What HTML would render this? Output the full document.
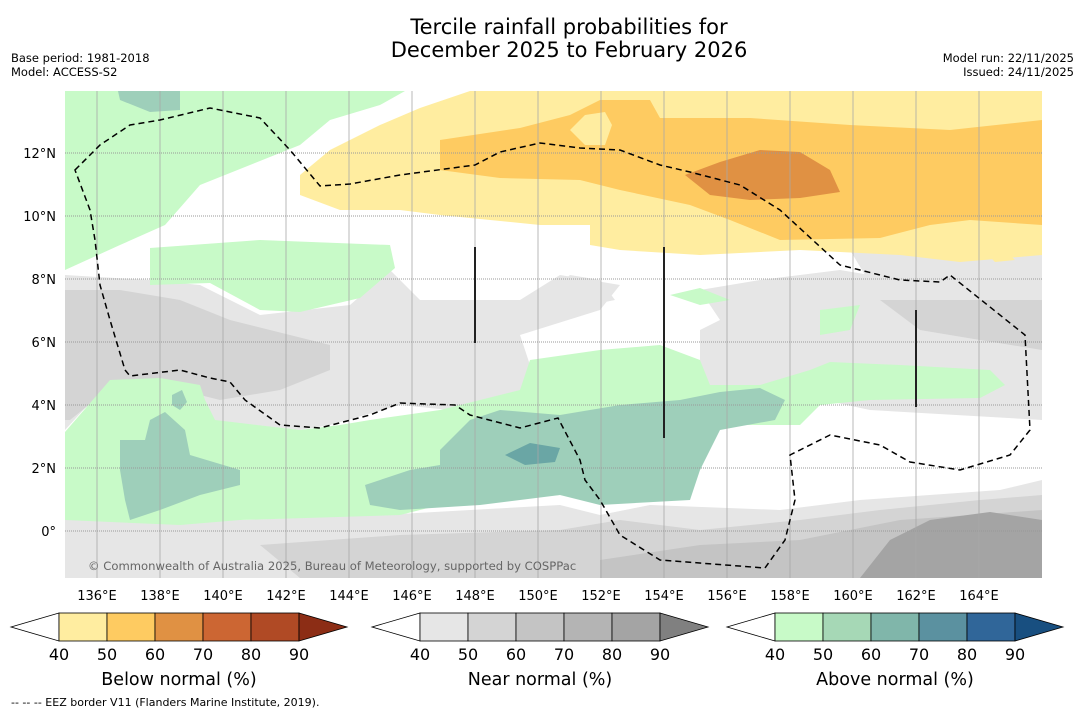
<!DOCTYPE html>
<html><head><meta charset="utf-8">
<style>
body{margin:0;background:#fff;font-family:"DejaVu Sans","Liberation Sans",sans-serif;}
svg text{font-family:"DejaVu Sans","Liberation Sans",sans-serif;}
</style></head>
<body>
<svg width="1085" height="713" viewBox="0 0 1085 713" xmlns="http://www.w3.org/2000/svg">
<rect width="1085" height="713" fill="#fff"/>
<text x="569" y="34" font-size="21" text-anchor="middle">Tercile rainfall probabilities for</text>
<text x="569" y="57" font-size="21" text-anchor="middle">December 2025 to February 2026</text>
<text x="11" y="62" font-size="11.5">Base period: 1981-2018</text>
<text x="11" y="76" font-size="11.5">Model: ACCESS-S2</text>
<text x="1074" y="62" font-size="11.5" text-anchor="end">Model run: 22/11/2025</text>
<text x="1074" y="76" font-size="11.5" text-anchor="end">Issued: 24/11/2025</text>

<defs><clipPath id="mc"><rect x="65" y="91" width="977" height="487"/></clipPath></defs>
<g clip-path="url(#mc)">
<rect x="65" y="91" width="977" height="487" fill="#fff"/>
<path fill="#e6e6e6" d="M65,275 L150,280 L200,285 L260,315 L350,305 L390,270 L420,300 L520,300 L560,275 L620,285 L600,310 L520,335 L530,365 L650,350 L700,360 L700,330 L720,320 L700,290 L760,280 L840,270 L900,280 L1042,250 L1042,578 L65,578 L65,520 L240,520 L380,515 L560,505 L600,515 L650,505 L780,510 L860,500 L1000,490 L1042,480 L1042,420 L870,410 L800,395 L720,410 L640,395 L560,420 L450,410 L400,405 L330,425 L300,430 L210,420 L170,380 L120,370 L65,430 Z"/>
<path fill="#d4d4d4" d="M65,290 L120,290 L180,300 L230,320 L330,345 L330,370 L280,390 L220,400 L180,390 L120,380 L70,420 L65,420 Z"/>
<path fill="#d4d4d4" d="M260,545 L400,535 L560,530 L620,520 L700,530 L800,520 L880,510 L980,500 L1042,495 L1042,578 L300,578 Z"/>
<path fill="#d4d4d4" d="M880,300 L1000,280 L1042,290 L1042,350 L980,340 L920,330 Z"/>
<path fill="#c4c4c4" d="M600,560 L700,545 L800,540 L900,520 L1042,510 L1042,578 L600,578 Z"/>
<path fill="#a4a4a4" d="M860,578 L890,540 L930,520 L990,512 L1042,520 L1042,578 Z"/>
<path fill="#e6e6e6" d="M470,91 L1042,91 L1042,110 L900,105 L800,110 L700,100 L540,110 L500,105 Z"/>
<path fill="#e6e6e6" d="M540,300 L570,275 L600,280 L615,300 L590,305 Z"/>
<path fill="#e6e6e6" d="M850,250 L950,240 L1042,230 L1042,300 L880,300 Z"/>
<path fill="#c8fac8" d="M65,91 L405,91 L380,105 L330,120 L300,145 L250,165 L200,185 L165,225 L120,245 L65,270 Z"/>
<path fill="#9ecfba" d="M118,91 L180,91 L180,110 L150,112 L120,100 Z"/>
<path fill="#c8fac8" d="M150,248 L260,240 L390,245 L395,268 L360,298 L300,312 L260,310 L210,283 L150,285 Z"/>
<path fill="#c8fac8" d="M65,432 L110,380 L160,378 L200,385 L205,400 L215,420 L300,430 L340,425 L370,420 L440,410 L520,390 L530,360 L600,350 L660,345 L700,360 L710,385 L760,385 L810,370 L830,362 L900,365 L990,370 L1005,385 L980,398 L870,400 L820,405 L800,425 L720,425 L700,470 L680,490 L600,500 L560,495 L440,505 L400,515 L240,520 L180,525 L65,520 Z"/>
<path fill="#c8fac8" d="M820,310 L860,305 L850,330 L820,335 Z"/>
<path fill="#c8fac8" d="M670,295 L700,288 L730,300 L700,305 Z"/>
<path fill="#9ecfba" d="M150,420 L165,412 L185,430 L190,455 L240,470 L240,485 L200,495 L160,510 L130,520 L125,500 L120,470 L120,440 L145,440 Z"/>
<path fill="#9ecfba" d="M365,485 L410,470 L440,465 L440,450 L470,420 L500,410 L560,415 L620,405 L680,400 L720,392 L760,388 L785,400 L775,420 L720,430 L700,470 L690,500 L600,505 L560,495 L480,505 L400,510 L370,505 Z"/>
<path fill="#6aa6a5" d="M505,455 L530,443 L560,448 L555,462 L525,465 Z"/>
<path fill="#9ecfba" d="M172,395 L182,390 L187,402 L180,410 L172,405 Z"/>
<path fill="#ffeda0" d="M300,175 L330,150 L380,125 L420,108 L470,91 L1042,91 L1042,255 L960,262 L900,255 L800,250 L700,255 L620,250 L590,245 L590,225 L540,225 L440,215 L400,210 L340,210 L300,195 Z"/>
<path fill="#fecb61" d="M440,140 L520,128 L570,115 L600,100 L650,100 L660,118 L750,118 L850,125 L950,130 L1042,120 L1042,225 L970,220 L930,225 L880,238 L780,240 L730,220 L690,205 L620,190 L580,180 L500,178 L440,170 Z"/>
<path fill="#ffeda0" d="M570,130 L585,115 L605,112 L612,125 L605,145 L585,145 Z"/>
<path fill="#e09143" d="M685,175 L720,162 L760,150 L800,152 L830,170 L840,192 L800,198 L750,200 L710,195 Z"/>
<path fill="#ffeda0" d="M990,257 L1010,255 L1015,260 L995,262 Z"/>
<g stroke="#a8a8a8" stroke-width="0.8">
<line x1="97" y1="91" x2="97" y2="578"/><line x1="160" y1="91" x2="160" y2="578"/><line x1="223" y1="91" x2="223" y2="578"/><line x1="286" y1="91" x2="286" y2="578"/><line x1="349" y1="91" x2="349" y2="578"/><line x1="412" y1="91" x2="412" y2="578"/><line x1="475" y1="91" x2="475" y2="578"/><line x1="538" y1="91" x2="538" y2="578"/><line x1="601" y1="91" x2="601" y2="578"/><line x1="664" y1="91" x2="664" y2="578"/><line x1="727" y1="91" x2="727" y2="578"/><line x1="790" y1="91" x2="790" y2="578"/><line x1="853" y1="91" x2="853" y2="578"/><line x1="916" y1="91" x2="916" y2="578"/><line x1="979" y1="91" x2="979" y2="578"/>
</g>
<g stroke="#999" stroke-width="1" stroke-dasharray="1,1">
<line x1="65" y1="153" x2="1042" y2="153"/><line x1="65" y1="216" x2="1042" y2="216"/><line x1="65" y1="279" x2="1042" y2="279"/><line x1="65" y1="342" x2="1042" y2="342"/><line x1="65" y1="405" x2="1042" y2="405"/><line x1="65" y1="468" x2="1042" y2="468"/><line x1="65" y1="531" x2="1042" y2="531"/>
</g>
<path fill="none" stroke="#000" stroke-width="1.5" stroke-dasharray="6,4" d="M75,170 L100,145 L130,125 L160,120 L210,108 L260,118 L290,150 L320,186 L350,184 L400,175 L475,165 L500,152 L540,143 L580,148 L620,150 L660,165 L690,172 L740,185 L780,210 L840,265 L900,280 L940,282 L950,275 L1025,335 L1030,430 L1010,455 L960,470 L910,462 L880,445 L830,435 L790,455 L795,500 L785,540 L765,568 L660,560 L620,535 L600,500 L585,480 L580,460 L558,418 L520,428 L470,415 L455,405 L400,403 L370,415 L320,428 L280,425 L245,400 L230,382 L210,378 L180,370 L130,376 L125,370 L110,320 L100,285 L95,240 L90,210 Z"/>
<g stroke="#222" stroke-width="2">
<line x1="475" y1="247" x2="475" y2="343"/><line x1="664" y1="247" x2="664" y2="438"/><line x1="916" y1="310" x2="916" y2="407"/>
</g>
<text x="88" y="570" font-size="11.6" fill="#666">© Commonwealth of Australia 2025, Bureau of Meteorology, supported by COSPPac</text>
</g>
<g font-size="13" fill="#000">
<text x="56" y="158" text-anchor="end">12°N</text><text x="56" y="221" text-anchor="end">10°N</text><text x="56" y="284" text-anchor="end">8°N</text><text x="56" y="347" text-anchor="end">6°N</text><text x="56" y="410" text-anchor="end">4°N</text><text x="56" y="473" text-anchor="end">2°N</text><text x="56" y="536" text-anchor="end">0°</text>
</g>
<g font-size="13" fill="#000" text-anchor="middle">
<text x="97" y="600">136°E</text><text x="160" y="600">138°E</text><text x="223" y="600">140°E</text><text x="286" y="600">142°E</text><text x="349" y="600">144°E</text><text x="412" y="600">146°E</text><text x="475" y="600">148°E</text><text x="538" y="600">150°E</text><text x="601" y="600">152°E</text><text x="664" y="600">154°E</text><text x="727" y="600">156°E</text><text x="790" y="600">158°E</text><text x="853" y="600">160°E</text><text x="916" y="600">162°E</text><text x="979" y="600">164°E</text>
</g>
<g id="cbars"></g>
<text x="11" y="706" font-size="11">--  --  -- EEZ border V11 (Flanders Marine Institute, 2019).</text>
</svg>
<script>
const barTitles=["Below normal (%)","Near normal (%)","Above normal (%)"];
const barColors=[["#ffeda0","#fecb61","#e09143","#cc6633","#b04a25","#8c2d15"],["#e6e6e6","#d4d4d4","#c4c4c4","#b4b4b4","#a4a4a4","#808080"],["#c8fac8","#a6d8b6","#80b6aa","#5b91a0","#306699","#184f80"]];
const tickLabels=["40","50","60","70","80","90"];
const barStarts=[59,420,775];
const ns="http://www.w3.org/2000/svg";
const g=document.getElementById("cbars");
function mk(t,a){const e=document.createElementNS(ns,t);for(const k in a)e.setAttribute(k,a[k]);g.appendChild(e);return e;}
barStarts.forEach((x0,b)=>{
  const w=48,y0=613,h=28;
  const lt=mk("polygon",{points:`${x0},${y0} ${x0-48},${y0+h/2} ${x0},${y0+h}`,fill:"#fff",stroke:"#000","stroke-width":"0.8"});
  
  
  for(let i=0;i<5;i++){
    const r=mk("rect",{x:x0+i*w,y:y0,width:w,height:h,fill:barColors[b][i],stroke:"#000","stroke-width":"0.8"});
    
    
  }
  const rt=mk("polygon",{points:`${x0+5*w},${y0} ${x0+6*w},${y0+h/2} ${x0+5*w},${y0+h}`,fill:barColors[b][5],stroke:"#000","stroke-width":"0.8"});
  
  
  tickLabels.forEach((t,i)=>{
    const tx=mk("text",{x:x0+i*w,y:660,"font-size":"16","text-anchor":"middle"});
    tx.textContent=t;
    
    
  });
  const tt=mk("text",{x:x0+2.5*w,y:685,"font-size":"17.5","text-anchor":"middle"});
  tt.textContent=barTitles[b];
  
  
});
</script>
</body></html>
